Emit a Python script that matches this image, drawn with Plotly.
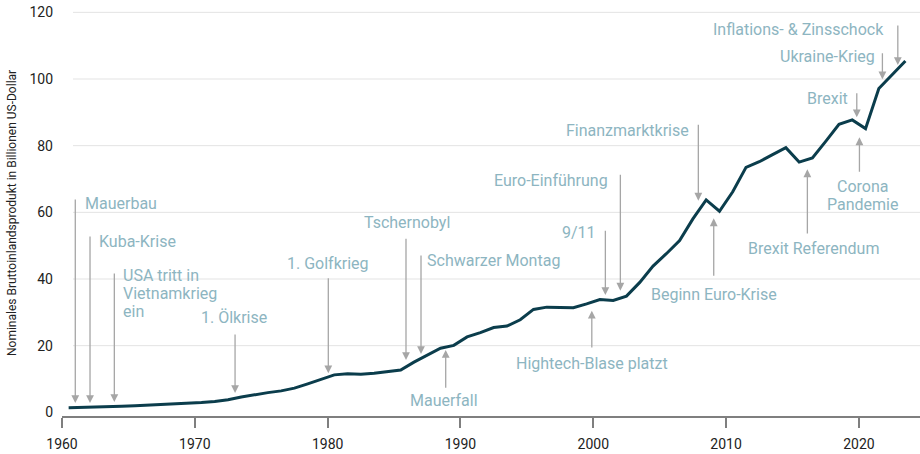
import plotly.graph_objects as go

# ---- data: nominal world GDP (trillion USD) ----
years = list(range(1960, 2024))
gdp = [1.39, 1.44, 1.54, 1.65, 1.80, 1.96, 2.12, 2.26, 2.44, 2.70,
       2.96, 3.27, 3.78, 4.60, 5.32, 5.91, 6.44, 7.27, 8.55, 9.94,
       11.24, 11.56, 11.44, 11.70, 12.13, 12.72, 15.06, 17.17, 19.25, 20.09,
       22.63, 23.92, 25.45, 25.88, 27.78, 30.87, 31.56, 31.44, 31.37, 32.52,
       33.83, 33.58, 34.86, 38.98, 43.89, 47.59, 51.54, 58.02, 63.71, 60.33,
       66.17, 73.50, 75.18, 77.32, 79.38, 75.06, 76.34, 81.30, 86.43, 87.73,
       85.12, 97.15, 101.2, 105.4]

x_ticks = [1960, 1970, 1980, 1990, 2000, 2010, 2020]
y_ticks = [0, 20, 40, 60, 80, 100, 120]
y_title = "Nominales Bruttoinlandsprodukt in Billionen US-Dollar"

event_labels = ["Mauerbau", "Kuba-Krise", "USA tritt in<br>Vietnamkrieg<br>ein", "1. Ölkrise",
                "1. Golfkrieg", "Tschernobyl", "Schwarzer Montag", "Mauerfall",
                "Euro-Einführung", "9/11", "Hightech-Blase platzt", "Finanzmarktkrise",
                "Beginn Euro-Krise", "Brexit Referendum", "Brexit", "Corona<br>Pandemie",
                "Ukraine-Krieg", "Inflations- & Zinsschock"]

# ---- annotation layout: arrow (x, tail y, head y), text (x, center y, anchor) ----
ann_layout = [
    (1961.00, 64.3, 2.8, 1961.60, 62.8, "left"),
    (1962.11, 53.2, 2.8, 1962.65, 51.4, "left"),
    (1963.94, 42.1, 3.1, 1964.46, 35.6, "left"),
    (1973.03, 23.8, 5.8, 1972.95, 28.6, "center"),
    (1980.05, 40.7, 11.7, 1980.03, 44.7, "center"),
    (1985.90, 52.5, 15.7, 1985.98, 56.9, "center"),
    (1987.03, 47.5, 17.5, 1987.35, 45.5, "left"),
    (1988.89, 6.9, 18.7, 1988.77, 3.5, "center"),
    (2002.04, 71.7, 36.5, 2001.27, 69.5, "right"),
    (2000.91, 54.9, 35.2, 2000.37, 53.9, "right"),
    (1999.89, 19.0, 30.5, 1999.87, 14.7, "center"),
    (2007.91, 86.7, 63.5, 2007.35, 84.5, "right"),
    (2009.07, 40.5, 58.2, 2009.06, 35.5, "center"),
    (2016.12, 53.2, 72.9, 2016.55, 49.3, "center"),
    (2019.84, 96.2, 88.5, 2019.34, 94.2, "right"),
    (2020.04, 71.7, 82.5, 2020.29, 65.1, "center"),
    (2021.77, 108.2, 99.9, 2021.36, 106.7, "right"),
    (2022.93, 116.5, 104.2, 2022.03, 114.9, "right"),
]

LINE_COLOR = "#0b3d4c"
TEXT_COLOR = "#8db5c1"
ARROW_COLOR = "#a6a6a6"
FONT = "Roboto"
LINE_H = 18  # px between stacked text lines

fig = go.Figure()
fig.add_trace(go.Scatter(
    x=[y + 0.5 for y in years], y=gdp, mode="lines",
    line=dict(color=LINE_COLOR, width=3), hoverinfo="skip", showlegend=False))

annotations = []
for label, (axx, tail, head, tx, ty, anchor) in zip(event_labels, ann_layout):
    annotations.append(dict(
        x=axx, y=head, xref="x", yref="y", text="", showarrow=True,
        axref="pixel", ax=0, ayref="y", ay=tail,
        arrowhead=2, arrowsize=1.2, arrowwidth=1.3, arrowcolor=ARROW_COLOR, standoff=0))
    lines = label.split("<br>")
    n = len(lines)
    for i, ln in enumerate(lines):
        annotations.append(dict(
            x=tx, y=ty, xref="x", yref="y", text=ln, showarrow=False,
            xanchor=anchor, yanchor="middle", yshift=((n - 1) / 2 - i) * LINE_H,
            font=dict(family=FONT, size=16, color=TEXT_COLOR)))

# y-axis title as rotated text in the left margin
annotations.append(dict(
    x=(12 - 62) / 858, y=0.5, xref="paper", yref="paper", text=y_title, showarrow=False,
    textangle=-90, xanchor="center", yanchor="middle",
    font=dict(family=FONT, size=12, color="#222222")))

shapes = []
for v in y_ticks[1:]:
    shapes.append(dict(type="line", xref="paper", x0=0.0128, x1=1, yref="y", y0=v, y1=v,
                       line=dict(color="#e3e3e3", width=1), layer="below"))

fig.update_layout(
    width=920, height=454,
    margin=dict(l=62, r=0, t=10, b=38, autoexpand=False),
    paper_bgcolor="white", plot_bgcolor="white",
    font=dict(family=FONT, size=14, color="#222222"),
    annotations=annotations, shapes=shapes,
    xaxis=dict(range=[1960, 2024.6], tickvals=x_ticks, ticktext=[str(t) for t in x_ticks],
               showgrid=False, zeroline=False, showline=True, linecolor="#7f7f7f", linewidth=1.5,
               ticks="outside", ticklen=10, tickwidth=1.5, tickcolor="#7f7f7f",
               ticklabelstandoff=4, automargin=False, tickfont=dict(size=14, color="#222222")),
    yaxis=dict(range=[-1.1, 120.7], tickvals=y_ticks, showgrid=False, zeroline=False,
               showline=False, ticks="", ticklabelstandoff=8, automargin=False,
               tickfont=dict(size=14, color="#222222")),
)

fig.write_html("out.html", config={"displayModeBar": False},
               post_script="document.body.style.margin='0';document.body.style.padding='0';")
